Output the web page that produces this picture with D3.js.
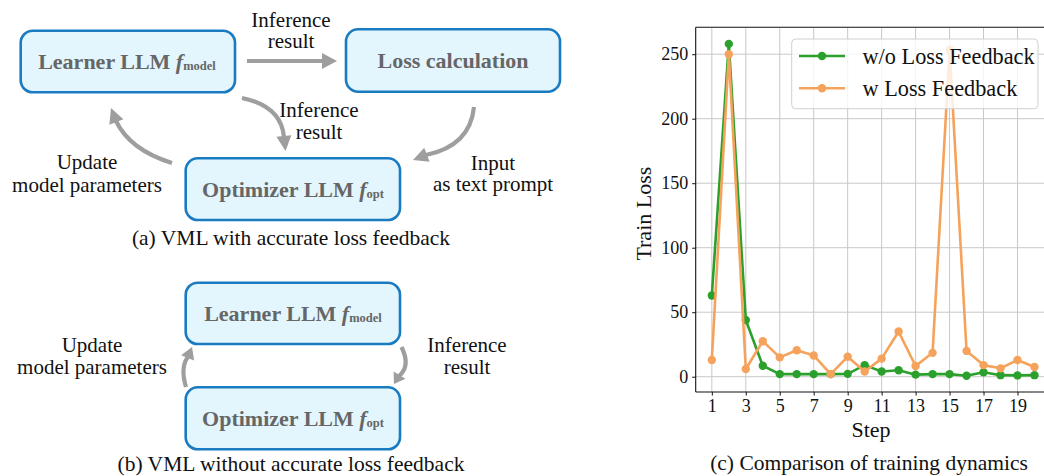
<!DOCTYPE html>
<html>
<head>
<meta charset="utf-8">
<script src="https://cdn.jsdelivr.net/npm/d3@7"></script>
<style>
  html, body { margin: 0; padding: 0; background: #ffffff; }
  svg { display: block; }
  text { font-family: "Liberation Serif", "DejaVu Serif", serif; }
</style>
</head>
<body>
<svg id="fig" width="1044" height="476"></svg>
<script>
// ---------------- data ----------------
const steps = [1, 2, 3, 4, 5, 6, 7, 8, 9, 10, 11, 12, 13, 14, 15, 16, 17, 18, 19, 20];
const woLossFeedback = [63, 258, 44, 8.5, 2, 2, 2, 2, 2.2, 9, 4, 5, 1.6, 2, 2, 0.8, 3.4, 1.2, 1, 1.2];
const wLossFeedback = [13, 250, 6, 27.5, 15, 20.5, 16.5, 2, 15.5, 4, 14, 35, 8.3, 18.5, 253.5, 20, 9, 6.5, 13, 7.5];
const seriesNames = ["w/o Loss Feedback", "w Loss Feedback"];
const xTicks = [1, 3, 5, 7, 9, 11, 13, 15, 17, 19];
const yTicks = [0, 50, 100, 150, 200, 250];
const captions = ["(a) VML with accurate loss feedback", "(b) VML without accurate loss feedback", "(c) Comparison of training dynamics"];
const axisLabels = ["Step", "Train Loss"];

// ---------------- styles ----------------
const GREEN = "#2ca02c";
const ORANGE = "#f5a35c";
const BOX_FILL = "#e3f6fd";
const BOX_STROKE = "#1b7bc0";
const BOX_TEXT = "#666666";
const ARROW = "#9e9e9e";

const svg = d3.select("#fig");

// ================= diagrams (a) and (b) =================
const diag = svg.append("g");

function box(x0, y0, x1, y1) {
  diag.append("rect")
    .attr("x", x0).attr("y", y0)
    .attr("width", x1 - x0).attr("height", y1 - y0)
    .attr("rx", 12).attr("ry", 12)
    .attr("fill", BOX_FILL).attr("stroke", BOX_STROKE).attr("stroke-width", 2.6);
}

function boxLabel(cx, baseline, main, sub) {
  const t = diag.append("text")
    .attr("x", cx).attr("y", baseline)
    .attr("text-anchor", "middle")
    .attr("fill", BOX_TEXT)
    .attr("font-weight", "bold")
    .attr("font-size", 22);
  t.append("tspan").text(main);
  if (sub) {
    t.append("tspan").attr("font-style", "italic").text(" f");
    t.append("tspan").attr("font-size", 12.5).attr("dy", 1).text(sub);
  }
}

function plainText(cx, baseline, lines, gap) {
  const t = diag.append("text")
    .attr("x", cx).attr("y", baseline)
    .attr("text-anchor", "middle")
    .attr("fill", "#111")
    .attr("font-size", 21);
  lines.forEach((s, i) => {
    t.append("tspan").attr("x", cx).attr("dy", i === 0 ? 0 : (gap || 21.6)).text(s);
  });
}

// arrow: quadratic path from p0 via control c to p1, then arrowhead to tip
function arrow(p0, c, p1, tip, headW) {
  const path = d3.path();
  path.moveTo(p0[0], p0[1]);
  if (c) path.quadraticCurveTo(c[0], c[1], p1[0], p1[1]);
  else path.lineTo(p1[0], p1[1]);
  diag.append("path").attr("d", path.toString())
    .attr("fill", "none").attr("stroke", ARROW).attr("stroke-width", 4.2);
  const dx = tip[0] - p1[0], dy = tip[1] - p1[1];
  const L = Math.hypot(dx, dy);
  const nx = -dy / L, ny = dx / L;
  const hw = headW || 7.5;
  const bx = p1[0] - dx / L * 1, by = p1[1] - dy / L * 1;
  diag.append("path")
    .attr("d", `M${tip[0]},${tip[1]} L${bx + nx * hw},${by + ny * hw} L${bx - nx * hw},${by - ny * hw} Z`)
    .attr("fill", ARROW);
}

// (a)
box(20.7, 30.7, 235, 92.3);
box(346, 29.3, 560, 91.7);
box(185.7, 158.3, 400, 220);
boxLabel(127, 69, "Learner LLM", "model");
boxLabel(453, 68, "Loss calculation", null);
boxLabel(293, 197, "Optimizer LLM", "opt");

arrow([247, 61], null, [323, 61], [337, 61], 8);
arrow([242, 98], [281, 106], [284, 137], [285.5, 151], 7.5);
arrow([172, 163], [130, 150], [116, 121], [111, 108], 7.5);
arrow([474, 107], [470, 146], [426, 155], [413, 160], 7.5);

plainText(291, 26.7, ["Inference", "result"]);
plainText(319, 116.5, ["Inference", "result"], 22.2);
plainText(87, 168.5, ["Update", "model parameters"], 23);
plainText(493, 169.7, ["Input", "as text prompt"]);

// (b)
box(185.7, 282.7, 400, 344);
box(185.7, 387.3, 400, 449.3);
boxLabel(293, 321, "Learner LLM", "model");
boxLabel(293, 426, "Optimizer LLM", "opt");

arrow([186, 387], [180, 367], [188, 357], [192, 347], 7);
arrow([401.5, 347], [411, 366], [399, 376], [394, 384], 7);

plainText(92, 352, ["Update", "model parameters"]);
plainText(467, 352, ["Inference", "result"]);

// captions
[[291, 245, captions[0]], [291, 471, captions[1]]].forEach(([px, py, s]) => {
  diag.append("text").attr("x", px).attr("y", py).attr("text-anchor", "middle")
    .attr("font-size", 21.5).attr("fill", "#111").text(s);
});

// ================= chart (c) =================
const pLeft = 695.7, pRight = 1050.6, pTop = 27.3, pBottom = 392;
const x = d3.scaleLinear().domain([0.05, 20.95]).range([pLeft, pRight]);
const y = d3.scaleLinear().domain([-11.85, 270.85]).range([pBottom, pTop]);

const chart = svg.append("g");

// grid
chart.append("g").selectAll("line").data(xTicks).join("line")
  .attr("x1", d => x(d)).attr("x2", d => x(d))
  .attr("y1", pTop).attr("y2", pBottom)
  .attr("stroke", "#c8c8c8").attr("stroke-width", 1);
chart.append("g").selectAll("line").data(yTicks).join("line")
  .attr("x1", pLeft).attr("x2", pRight)
  .attr("y1", d => y(d)).attr("y2", d => y(d))
  .attr("stroke", "#c8c8c8").attr("stroke-width", 1);

// axes
const xAxis = chart.append("g").attr("transform", `translate(0,${pBottom})`)
  .call(d3.axisBottom(x).tickValues(xTicks).tickSize(3.5).tickPadding(4).tickFormat(d3.format("d")));
const yAxis = chart.append("g").attr("transform", `translate(${pLeft},0)`)
  .call(d3.axisLeft(y).tickValues(yTicks).tickSize(3.5).tickPadding(4).tickFormat(d3.format("d")));
[xAxis, yAxis].forEach(a => {
  a.selectAll("text").attr("font-family", '"Liberation Serif", serif').attr("font-size", 18).attr("fill", "#111");
  a.selectAll(".tick line").attr("stroke", "#111").attr("stroke-width", 1);
  a.select(".domain").attr("stroke", "none");
});
// spines
chart.append("line").attr("x1", pLeft).attr("x2", pLeft).attr("y1", pTop).attr("y2", pBottom)
  .attr("stroke", "#111").attr("stroke-width", 1.1);
chart.append("line").attr("x1", pLeft).attr("x2", pRight).attr("y1", pBottom).attr("y2", pBottom)
  .attr("stroke", "#111").attr("stroke-width", 1.1);
chart.append("line").attr("x1", pLeft).attr("x2", pRight).attr("y1", pTop).attr("y2", pTop)
  .attr("stroke", "#111").attr("stroke-width", 1.1);

// lines & markers
const series = [
  { name: seriesNames[0], values: woLossFeedback, color: GREEN },
  { name: seriesNames[1], values: wLossFeedback, color: ORANGE }
];
const line = d3.line().x((d, i) => x(steps[i])).y(d => y(d));
series.forEach(s => {
  const g = chart.append("g");
  g.append("path").attr("d", line(s.values))
    .attr("fill", "none").attr("stroke", s.color).attr("stroke-width", 2.6)
    .attr("stroke-linejoin", "round");
  g.selectAll("circle").data(s.values).join("circle")
    .attr("cx", (d, i) => x(steps[i])).attr("cy", d => y(d)).attr("r", 4.2)
    .attr("fill", s.color);
});

// legend
const lg = chart.append("g");
lg.append("rect").attr("x", 791.7).attr("y", 39).attr("width", 246.3).attr("height", 69.7)
  .attr("rx", 4).attr("fill", "#ffffff").attr("fill-opacity", 0.8)
  .attr("stroke", "#d0d0d0").attr("stroke-width", 1);
series.forEach((s, i) => {
  const yy = 56 + i * 32.3;
  lg.append("line").attr("x1", 799).attr("x2", 845).attr("y1", yy).attr("y2", yy)
    .attr("stroke", s.color).attr("stroke-width", 2.6);
  lg.append("circle").attr("cx", 822).attr("cy", yy).attr("r", 4.2).attr("fill", s.color);
  lg.append("text").attr("x", 862.5).attr("y", yy + 8).attr("font-size", 22.3)
    .attr("fill", "#111").text(s.name);
});

// axis labels
chart.append("text").attr("x", 871).attr("y", 437)
  .attr("text-anchor", "middle").attr("font-size", 22).attr("fill", "#111").text(axisLabels[0]);
chart.append("text")
  .attr("transform", `translate(651,${(pTop + pBottom) / 2 + 4}) rotate(-90)`)
  .attr("text-anchor", "middle").attr("font-size", 22).attr("fill", "#111").text(axisLabels[1]);

// caption
chart.append("text").attr("x", 869).attr("y", 470).attr("text-anchor", "middle")
  .attr("font-size", 21.5).attr("fill", "#111").text(captions[2]);
</script>
</body>
</html>
